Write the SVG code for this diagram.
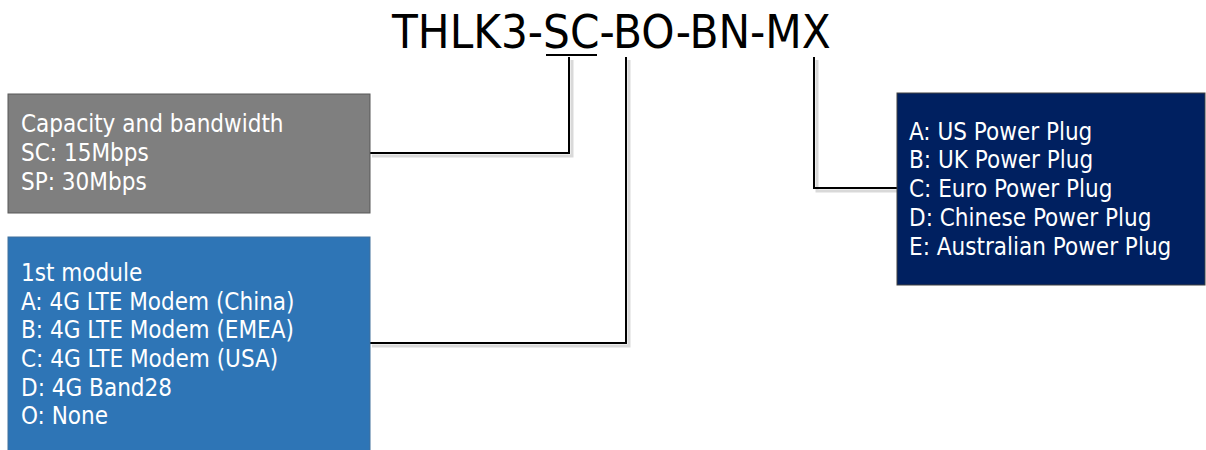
<svg xmlns="http://www.w3.org/2000/svg" width="1206" height="450" viewBox="0 0 1206 450">
<style>
text{font-family:"DejaVu Sans Condensed","DejaVu Sans",sans-serif;fill:#fff;font-size:24px}
.title{fill:#000;font-size:47px}
.ln{fill:none;stroke:#000;stroke-width:2}
.sh{fill:none;stroke:#d9d9d9;stroke-width:3}
</style>
<rect width="1206" height="450" fill="#fff"/>
<g id="title"><text class="title" x="392" y="48">THLK3-SC-BO-BN-MX</text></g>
<g id="connectors">
<polyline class="sh" points="572,60 572,156 372,156"/>
<polyline class="sh" points="629,60 629,346 372,346"/>
<polyline class="sh" points="817,60 817,191 897,191"/>
<line class="ln" x1="546" y1="55" x2="597" y2="55"/>
<polyline class="ln" points="569,57 569,153 370,153"/>
<polyline class="ln" points="626,57 626,343 370,343"/>
<polyline class="ln" points="814,57 814,188 897,188"/>
</g>
<g id="capacity">
<rect x="8" y="94" width="362" height="119" fill="#7f7f7f" stroke="#595959" stroke-width="1"/>
<text x="21" y="132">Capacity and bandwidth</text>
<text x="21" y="161">SC: 15Mbps</text>
<text x="21" y="190">SP: 30Mbps</text>
</g>
<g id="module">
<rect x="8" y="237" width="362" height="220" fill="#2e75b6" stroke="#41719c" stroke-width="1"/>
<text x="21" y="281">1st module</text>
<text x="21" y="310">A: 4G LTE Modem (China)</text>
<text x="21" y="338">B: 4G LTE Modem (EMEA)</text>
<text x="21" y="367">C: 4G LTE Modem (USA)</text>
<text x="21" y="396">D: 4G Band28</text>
<text x="21" y="424">O: None</text>
</g>
<g id="plug">
<rect x="897" y="93" width="308" height="192" fill="#002060" stroke="#404040" stroke-width="1"/>
<text x="909" y="140">A: US Power Plug</text>
<text x="909" y="168">B: UK Power Plug</text>
<text x="909" y="197">C: Euro Power Plug</text>
<text x="909" y="226">D: Chinese Power Plug</text>
<text x="909" y="255">E: Australian Power Plug</text>
</g>
</svg>
